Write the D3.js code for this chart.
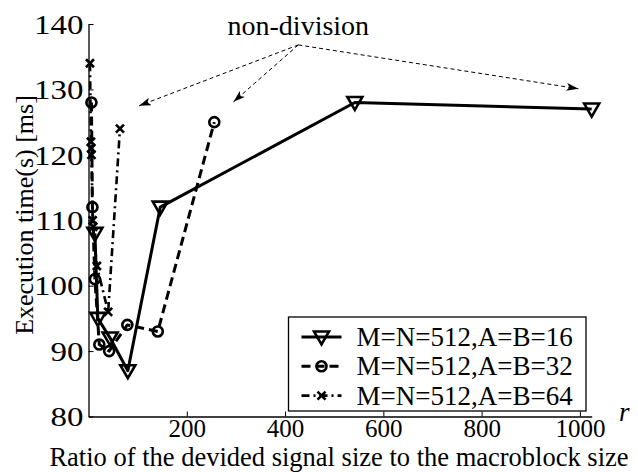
<!DOCTYPE html>
<html><head><meta charset="utf-8">
<script src="https://cdn.jsdelivr.net/npm/d3@7/dist/d3.min.js"></script>
<style>
body{margin:0;background:#fff;}
svg{display:block;font-family:"Liberation Serif","Times New Roman",serif;}
</style></head>
<body>
<svg id="chart" width="638" height="472"></svg>
<script>
// ---- data ----
const seriesNames = ["M=N=512,A=B=16", "M=N=512,A=B=32", "M=N=512,A=B=64"];
const r16 = [13, 19, 44, 80, 146, 542, 1024];
const t16 = [108, 95, 92, 87, 112, 128, 127];
const r32 = [6, 8, 13, 22, 42, 79, 141, 256];
const t32 = [128, 112, 101, 91, 90, 94, 93, 125];
const r64 = [3, 5, 5.5, 6, 8.5, 9.5, 17, 40, 64];
const t64 = [134, 122, 121, 120, 110, 109, 103, 96, 124];
const xTicks = [200, 400, 600, 800, 1000];
const yTicks = [80, 90, 100, 110, 120, 130, 140];
const annotationText = "non-division";
const annotationOrigin = [427, 136.8];
const annotationTargets = [[103, 127.5], [295, 128.1], [997, 130.1]];
const xLabel = "Ratio of the devided signal size to the macroblock size";
const yLabel = "Execution time(s) [ms]";

// ---- layout ----
const svg = d3.select("#chart");
const L = 88.5, R = 591.7, T = 24, B = 416.5;
const x = d3.scaleLinear().domain([0, 1024]).range([L, R]);
const y = d3.scaleLinear().domain([80, 140]).range([B, T]);

// axes
const xAxis = d3.axisBottom(x).tickValues(xTicks).tickFormat(d3.format("d")).tickSize(-5).tickSizeOuter(0).tickPadding(3);
const yAxis = d3.axisLeft(y).tickValues(yTicks).tickFormat(d3.format("d")).tickSize(-5).tickSizeOuter(0).tickPadding(6);

const gx = svg.append("g").attr("transform", `translate(0,${B})`).call(xAxis);
gx.select(".domain").attr("stroke", "#000").attr("stroke-width", 1.3);
gx.selectAll(".tick line").attr("stroke", "#000").attr("stroke-width", 1);
gx.selectAll(".tick text").attr("font-size", 25).attr("fill", "#000").attr("font-family", "Liberation Serif");

const gy = svg.append("g").attr("transform", `translate(${L},0)`).call(yAxis);
gy.select(".domain").attr("stroke", "#000").attr("stroke-width", 1.3);
gy.selectAll(".tick line").attr("stroke", "#000").attr("stroke-width", 1);
gy.selectAll(".tick text").attr("font-size", 27).attr("fill", "#000").attr("font-family", "Liberation Serif")
  .attr("x", 0).attr("dy", "0.34em")
  .attr("transform", "translate(-5,0) scale(1.22,1)");

// axis labels
svg.append("text").attr("x", 339).attr("y", 466).attr("text-anchor", "middle")
  .attr("font-size", 26.5).text(xLabel);
svg.append("text").attr("transform", "translate(33,215) rotate(-90)").attr("text-anchor", "middle")
  .attr("font-size", 26).text(yLabel);
svg.append("text").attr("x", 619).attr("y", 421).attr("font-size", 27).attr("font-style", "italic").text("r");

// line generators
const line = d3.line().x(d => x(d[0])).y(d => y(d[1]));
const zip = (a, b) => a.map((v, i) => [v, b[i]]);

const styles = [
  {dash: null, width: 3},
  {dash: "9,5", width: 3},
  {dash: "8,4,2,4", width: 2.6}
];
const data = [zip(r16, t16), zip(r32, t32), zip(r64, t64)];

// marker drawers
function tri(g) { g.append("path").attr("d", "M-7.5,-5.5L7.5,-5.5L0,7.5Z").attr("fill", "none").attr("stroke", "#000").attr("stroke-width", 2.6).attr("stroke-linejoin", "miter"); }
function circ(g) { g.append("circle").attr("r", 5).attr("fill", "none").attr("stroke", "#000").attr("stroke-width", 2.6); }
function cross(g) { g.append("path").attr("d", "M-4,-4L4,4M-4,4L4,-4").attr("fill", "none").attr("stroke", "#000").attr("stroke-width", 2.6); }
const markers = [tri, circ, cross];

// draw lines (back to front: 64, 32, 16)
[2, 1, 0].forEach(i => {
  svg.append("path").datum(data[i]).attr("d", line).attr("fill", "none")
    .attr("stroke", "#000").attr("stroke-width", styles[i].width)
    .attr("stroke-dasharray", styles[i].dash).attr("stroke-linejoin", "round");
});
[2, 1, 0].forEach(i => {
  svg.append("g").selectAll("g").data(data[i]).join("g")
    .attr("transform", d => `translate(${x(d[0])},${y(d[1])})`)
    .each(function () { markers[i](d3.select(this)); });
});

// annotation
const defs = svg.append("defs");
defs.append("marker").attr("id", "ah").attr("viewBox", "0 0 12 8").attr("refX", 12).attr("refY", 4)
  .attr("markerWidth", 12).attr("markerHeight", 8).attr("markerUnits", "userSpaceOnUse").attr("orient", "auto")
  .append("path").attr("d", "M0,0L12,4L0,8L3,4Z").attr("fill", "#000");
annotationTargets.forEach(tg => {
  svg.append("line").attr("x1", x(annotationOrigin[0])).attr("y1", y(annotationOrigin[1]))
    .attr("x2", x(tg[0])).attr("y2", y(tg[1])).attr("stroke", "#000").attr("stroke-width", 1)
    .attr("stroke-dasharray", "4,3").attr("marker-end", "url(#ah)");
});
svg.append("text").attr("x", x(annotationOrigin[0])).attr("y", 35).attr("text-anchor", "middle")
  .attr("font-size", 28).text(annotationText);

// legend
const lg = svg.append("g").attr("transform", "translate(288.5,317)");
lg.append("rect").attr("width", 297.5).attr("height", 94).attr("fill", "#fff").attr("stroke", "#000").attr("stroke-width", 1.3);
seriesNames.forEach((name, i) => {
  const yy = 20 + i * 29.3;
  lg.append("line").attr("x1", 13).attr("x2", 53).attr("y1", yy).attr("y2", yy)
    .attr("stroke", "#000").attr("stroke-width", styles[i].width).attr("stroke-dasharray", styles[i].dash);
  const m = lg.append("g").attr("transform", `translate(33,${yy})`);
  markers[i](m);
  lg.append("text").attr("x", 68).attr("y", yy + 9).attr("font-size", 27).text(name);
});
</script>
</body></html>
